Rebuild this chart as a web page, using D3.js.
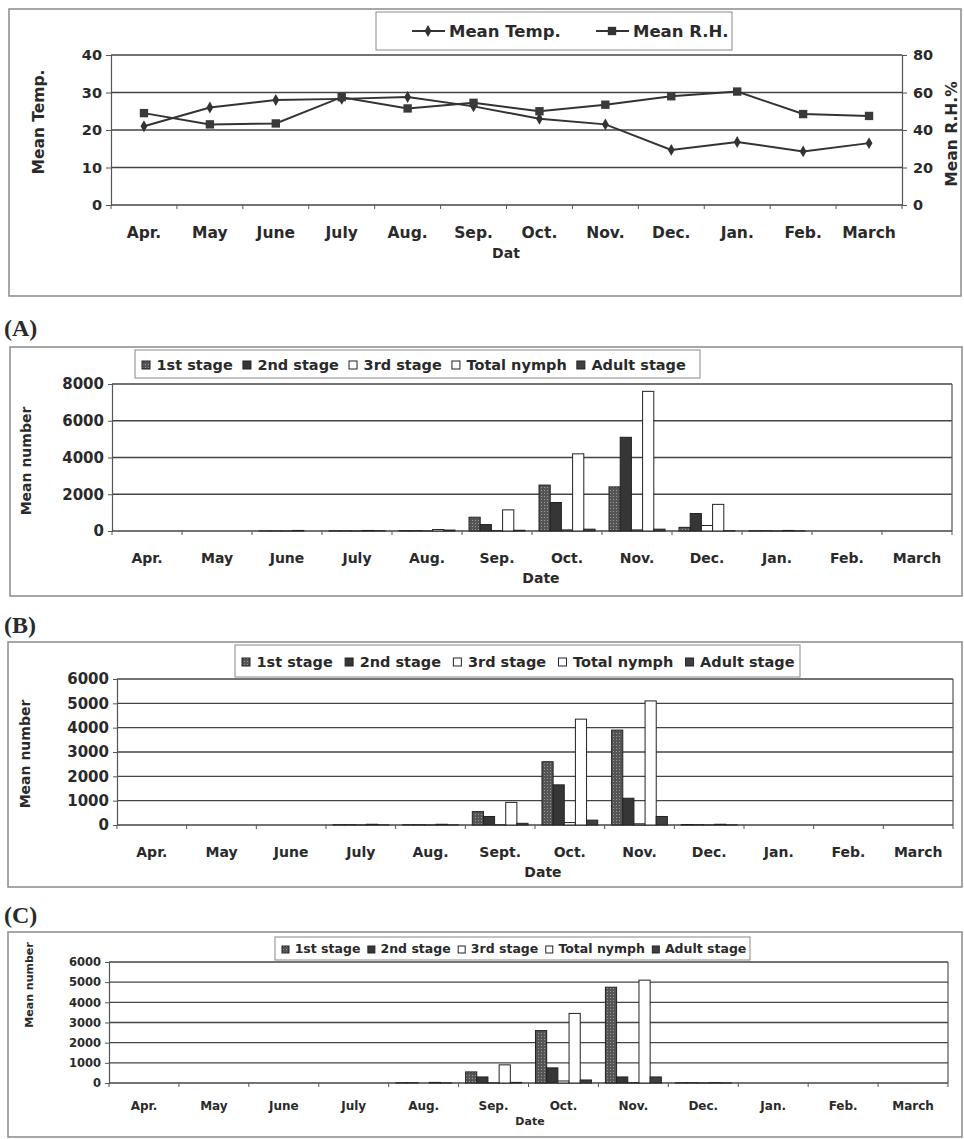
<!DOCTYPE html>
<html>
<head>
	<meta charset="utf-8">
	<title></title>
	<style>
		body { margin: 0; background: #fff; }
		text { font-family: "DejaVu Sans", sans-serif; font-weight: bold; fill: #2a2a2a; }
	</style>
</head>
<body>
	<svg id="container" width="964" height="1139"></svg>
<script src="https://d3js.org/d3.v7.min.js"></script>
<script>
	// ---- data ----
	const months = ["Apr.", "May", "June", "July", "Aug.", "Sep.", "Oct.", "Nov.", "Dec.", "Jan.", "Feb.", "March"]
	const monthsB = ["Apr.", "May", "June", "July", "Aug.", "Sept.", "Oct.", "Nov.", "Dec.", "Jan.", "Feb.", "March"]

	const meanTemp = [21, 26, 28, 28.3, 28.8, 26.3, 23, 21.5, 14.7, 16.8, 14.3, 16.5]
	const meanRH = [49, 43, 43.5, 57.5, 51.5, 54.5, 50, 53.5, 58, 60.5, 48.5, 47.5]
	const tempTicks = [0, 10, 20, 30, 40]
	const rhTicks = [0, 20, 40, 60, 80]

	const stages = ["1st stage", "2nd stage", "3rd stage", "Total nymph", "Adult stage"]

	// (A)
	const a1st = [0, 0, 5, 10, 20, 750, 2500, 2400, 200, 10, 0, 0]
	const a2nd = [0, 0, 5, 10, 15, 350, 1550, 5100, 950, 10, 0, 0]
	const a3rd = [0, 0, 5, 5, 10, 20, 60, 60, 300, 5, 0, 0]
	const aTotal = [0, 0, 30, 30, 80, 1150, 4200, 7600, 1450, 30, 0, 0]
	const aAdult = [0, 0, 0, 10, 50, 40, 100, 100, 10, 5, 0, 0]
	const aTicks = [0, 2000, 4000, 6000, 8000]

	// (B)
	const b1st = [0, 0, 0, 10, 10, 550, 2600, 3900, 20, 0, 0, 0]
	const b2nd = [0, 0, 0, 10, 10, 350, 1650, 1100, 10, 0, 0, 0]
	const b3rd = [0, 0, 0, 5, 5, 10, 100, 50, 5, 0, 0, 0]
	const bTotal = [0, 0, 0, 30, 30, 930, 4350, 5100, 30, 0, 0, 0]
	const bAdult = [0, 0, 0, 5, 5, 70, 200, 350, 5, 0, 0, 0]
	const bTicks = [0, 1000, 2000, 3000, 4000, 5000, 6000]

	// (C)
	const c1st = [0, 0, 0, 0, 10, 550, 2600, 4750, 10, 0, 0, 0]
	const c2nd = [0, 0, 0, 0, 10, 300, 750, 300, 10, 0, 0, 0]
	const c3rd = [0, 0, 0, 0, 0, 10, 100, 20, 5, 0, 0, 0]
	const cTotal = [0, 0, 0, 0, 30, 900, 3450, 5100, 20, 0, 0, 0]
	const cAdult = [0, 0, 0, 0, 5, 30, 150, 300, 5, 0, 0, 0]
	const cTicks = [0, 1000, 2000, 3000, 4000, 5000, 6000]

	const svg = d3.select("#container")
	const ink = "#2e2e2e"

	// fills for the five stages
	let defs = svg.append("defs")
	let pat = defs.append("pattern").attr("id", "p1st")
		.attr("width", 3).attr("height", 3).attr("patternUnits", "userSpaceOnUse")
	pat.append("rect").attr("width", 3).attr("height", 3).attr("fill", "#555")
	pat.append("rect").attr("x", 1).attr("y", 1).attr("width", 1).attr("height", 1).attr("fill", "#9a9a9a")
	const stageFill = ["url(#p1st)", "#363636", "#ffffff", "#ffffff", "#404040"]

	// ---------- top line chart ----------
	function drawLinePanel() {
		let g = svg.append("g")
		g.append("rect").attr("x", 9).attr("y", 9).attr("width", 952).attr("height", 287)
			.attr("fill", "none").attr("stroke", "#8a8a8a").attr("stroke-width", 1.5)

		let L = 111, R = 902, T = 55, B = 205
		let x = d3.scaleBand().domain(months).range([L, R])
		let yL = d3.scaleLinear().domain([0, 40]).range([B, T])
		let yR = d3.scaleLinear().domain([0, 80]).range([B, T])
		let cx = m => x(m) + x.bandwidth() / 2

		g.selectAll(".grid").data(tempTicks).enter().append("line")
			.attr("x1", L).attr("x2", R).attr("y1", d => yL(d)).attr("y2", d => yL(d))
			.attr("stroke", "#444").attr("stroke-width", 1.4)

		let ax = g.append("g").attr("transform", `translate(${L},0)`)
			.call(d3.axisLeft(yL).tickValues(tempTicks).tickSize(5).tickPadding(4))
		let axR = g.append("g").attr("transform", `translate(${R},0)`)
			.call(d3.axisRight(yR).tickValues(rhTicks).tickSize(5).tickPadding(6))
		for (let a of [ax, axR]) {
			a.select(".domain").attr("stroke", "#555").attr("stroke-width", 1.2)
			a.selectAll(".tick line").attr("stroke", "#555")
			a.selectAll("text").style("font-size", "14.5px").attr("fill", ink)
		}

		// category ticks + labels
		g.selectAll(".ct").data(d3.range(months.length + 1)).enter().append("line")
			.attr("x1", i => L + i * x.step()).attr("x2", i => L + i * x.step())
			.attr("y1", B).attr("y2", B + 4).attr("stroke", "#555")
		g.selectAll(".ml").data(months).enter().append("text")
			.attr("x", d => cx(d)).attr("y", 238).attr("text-anchor", "middle")
			.style("font-size", "15.5px").text(d => d)
		g.append("text").attr("x", 506).attr("y", 258).attr("text-anchor", "middle")
			.style("font-size", "14px").text("Dat")

		g.append("text").attr("transform", "translate(44,122) rotate(-90)")
			.attr("text-anchor", "middle").style("font-size", "15.5px").text("Mean Temp.")
		g.append("text").attr("transform", "translate(957,134) rotate(-90)")
			.attr("text-anchor", "middle").style("font-size", "15.5px").text("Mean R.H.%")

		let line = d3.line().x((d, i) => cx(months[i]))
		g.append("path").attr("d", line.y(d => yL(d))(meanTemp))
			.attr("fill", "none").attr("stroke", "#333").attr("stroke-width", 2)
		g.append("path").attr("d", line.y(d => yR(d))(meanRH))
			.attr("fill", "none").attr("stroke", "#333").attr("stroke-width", 2)

		let diamond = d3.symbol(d3.symbolDiamond, 40)
		let square = d3.symbol(d3.symbolSquare, 70)
		g.selectAll(".mt").data(meanTemp).enter().append("path")
			.attr("d", diamond).attr("fill", "#333")
			.attr("transform", (d, i) => `translate(${cx(months[i])},${yL(d)})`)
		g.selectAll(".mr").data(meanRH).enter().append("path")
			.attr("d", square).attr("fill", "#3a3a3a")
			.attr("transform", (d, i) => `translate(${cx(months[i])},${yR(d)})`)

		// legend
		g.append("rect").attr("x", 376).attr("y", 12).attr("width", 356).attr("height", 38)
			.attr("fill", "#fff").attr("stroke", "#888")
		let items = [["Mean Temp.", diamond, 412], ["Mean R.H.", square, 596]]
		for (let [name, sym, lx] of items) {
			g.append("line").attr("x1", lx).attr("x2", lx + 33).attr("y1", 31).attr("y2", 31)
				.attr("stroke", "#333").attr("stroke-width", 2)
			g.append("path").attr("d", sym).attr("fill", "#333")
				.attr("transform", `translate(${lx + 16},31)`)
			g.append("text").attr("x", lx + 37).attr("y", 37).style("font-size", "16.5px").text(name)
		}
	}

	// ---------- bar panels ----------
	function drawBarPanel(p) {
		let g = svg.append("g")
		g.append("text").attr("x", 4).attr("y", p.labelY)
			.style("font-family", "'Liberation Serif', serif").style("font-size", "24px")
			.text(p.label)
		g.append("rect").attr("x", p.box[0]).attr("y", p.box[1]).attr("width", p.box[2]).attr("height", p.box[3])
			.attr("fill", "none").attr("stroke", "#8a8a8a").attr("stroke-width", 1.5)

		let x0 = d3.scaleBand().domain(p.cats).range([p.L, p.R]).paddingInner(0.2).paddingOuter(0.1)
		let x1 = d3.scaleBand().domain(stages).range([0, x0.bandwidth()])
		let y = d3.scaleLinear().domain([0, p.ticks[p.ticks.length - 1]]).range([p.B, p.T])
		let step = (p.R - p.L) / p.cats.length

		g.selectAll(".grid").data(p.ticks).enter().append("line")
			.attr("x1", p.L).attr("x2", p.R).attr("y1", d => y(d)).attr("y2", d => y(d))
			.attr("stroke", "#444").attr("stroke-width", 1.3)
		g.append("line").attr("x1", p.R).attr("x2", p.R).attr("y1", p.T).attr("y2", p.B)
			.attr("stroke", "#555").attr("stroke-width", 1.2)

		let ax = g.append("g").attr("transform", `translate(${p.L},0)`)
			.call(d3.axisLeft(y).tickValues(p.ticks).tickFormat(d3.format("d")).tickSize(4).tickPadding(4))
		ax.select(".domain").attr("stroke", "#555").attr("stroke-width", 1.2)
		ax.selectAll(".tick line").attr("stroke", "#555")
		ax.selectAll("text").style("font-size", p.tickFs + "px").attr("fill", ink)

		g.selectAll(".ct").data(d3.range(p.cats.length + 1)).enter().append("line")
			.attr("x1", i => p.L + i * step).attr("x2", i => p.L + i * step)
			.attr("y1", p.B).attr("y2", p.B + 4).attr("stroke", "#555")
		g.selectAll(".ml").data(p.cats).enter().append("text")
			.attr("x", d => x0(d) + x0.bandwidth() / 2).attr("y", p.monthY).attr("text-anchor", "middle")
			.style("font-size", p.monthFs + "px").text(d => d)
		g.append("text").attr("x", p.dateX).attr("y", p.dateY).attr("text-anchor", "middle")
			.style("font-size", p.titleFs + "px").text("Date")
		g.append("text").attr("transform", `translate(${p.titleX},${p.titleY}) rotate(-90)`)
			.attr("text-anchor", "middle").style("font-size", p.titleFs + "px").text("Mean number")

		// bars
		p.series.forEach((vals, si) => {
			g.selectAll(".b" + si).data(vals).enter().append("rect")
				.attr("x", (d, i) => x0(p.cats[i]) + x1(stages[si]))
				.attr("width", x1.bandwidth())
				.attr("y", d => y(d))
				.attr("height", d => y(0) - y(d))
				.attr("fill", stageFill[si])
				.attr("stroke", "#222").attr("stroke-width", 1)
		})

		// legend
		let lg = p.legend
		g.append("rect").attr("x", lg[0]).attr("y", lg[1]).attr("width", lg[2]).attr("height", lg[3])
			.attr("fill", "#fff").attr("stroke", "#888")
		let cy = lg[1] + lg[3] / 2
		let s = Math.round(p.legFs * 0.55)
		let lx = lg[0] + 7
		stages.forEach((name, si) => {
			g.append("rect").attr("x", lx).attr("y", cy - s / 2 + 1).attr("width", s).attr("height", s)
				.attr("fill", stageFill[si]).attr("stroke", "#222").attr("stroke-width", 1)
			let t = g.append("text").attr("x", lx + s + p.legFs * 0.45).attr("y", cy + p.legFs * 0.38)
				.style("font-size", p.legFs + "px").text(name)
			lx += s + p.legFs * 0.45 + t.node().getComputedTextLength() + p.legFs * p.legGap
		})
	}

	drawLinePanel()

	drawBarPanel({
		label: "(A)", labelY: 336, box: [10, 347, 952, 249],
		cats: months, series: [a1st, a2nd, a3rd, aTotal, aAdult], ticks: aTicks,
		L: 112, R: 952, T: 384, B: 531,
		legend: [135, 350, 565, 28], legFs: 14.5, legGap: 0.7,
		tickFs: 15, monthFs: 14, titleFs: 14,
		monthY: 563, dateX: 541, dateY: 583, titleX: 31, titleY: 461
	})

	drawBarPanel({
		label: "(B)", labelY: 633, box: [8, 642, 954, 245],
		cats: monthsB, series: [b1st, b2nd, b3rd, bTotal, bAdult], ticks: bTicks,
		L: 117, R: 953, T: 679, B: 825,
		legend: [235, 645, 565, 32], legFs: 14.5, legGap: 0.85,
		tickFs: 15, monthFs: 14, titleFs: 14,
		monthY: 857, dateX: 543, dateY: 877, titleX: 30, titleY: 754
	})

	drawBarPanel({
		label: "(C)", labelY: 923, box: [8, 932, 954, 205],
		cats: months, series: [c1st, c2nd, c3rd, cTotal, cAdult], ticks: cTicks,
		L: 109, R: 948, T: 962, B: 1083,
		legend: [275, 937, 475, 23], legFs: 12.5, legGap: 0.6,
		tickFs: 11.5, monthFs: 12, titleFs: 11,
		monthY: 1110, dateX: 530, dateY: 1125, titleX: 33, titleY: 985
	})
</script>
</body>
</html>
